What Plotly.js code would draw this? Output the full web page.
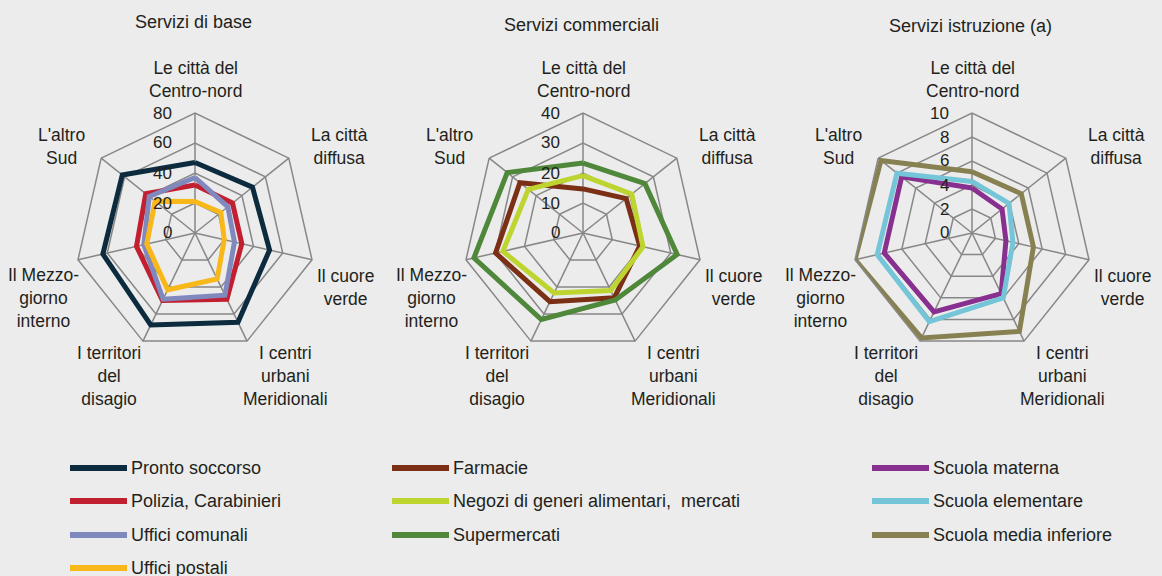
<!DOCTYPE html>
<html>
<head>
<meta charset="utf-8">
<script src="https://cdn.plot.ly/plotly-3.0.1.min.js"></script>
<style>
html,body{margin:0;padding:0;background:#EBECEB;}
#chart{width:1162px;height:576px;}
</style>
</head>
<body>
<div id="chart"></div>
<script>
// Categories (angular axis)
const categories = ["Le città del<br>Centro-nord", "La città<br>diffusa", "Il cuore<br>verde", "I centri<br>urbani<br>Meridionali", "I territori<br>del<br>disagio", "Il Mezzo-<br>giorno<br>interno", "L'altro<br>Sud"];

// Panel titles
const panelTitles = ["Servizi di base", "Servizi commerciali", "Servizi istruzione (a)"];

// Servizi di base
const prontoSoccorso = [47, 49, 51, 66, 68, 63, 62];
const poliziaCarabinieri = [32, 32, 32, 49, 50, 40, 42];
const ufficiComunali = [37, 28, 27, 46, 49, 35, 39];
const ufficiPostali = [21, 22, 20, 34, 42, 33, 34];

// Servizi commerciali
const farmacie = [14.7, 18.4, 19.4, 24, 25.4, 29.9, 26.9];
const negoziAlimentari = [19.1, 20.8, 20.5, 21.3, 22.2, 27.4, 23.3];
const supermercati = [23.3, 26.4, 32.2, 24.8, 32, 37.3, 32.3];

// Servizi istruzione
const scuolaMaterna = [3.75, 3.2, 2.9, 5.6, 7.3, 7.5, 7.5];
const scuolaElementare = [4.3, 3.95, 3.5, 6.0, 8.2, 8.1, 8.0];
const scuolaMedia = [5.1, 5.25, 5.25, 9.1, 9.7, 10, 9.7];

// Radial scales and their tick labels
const radialMax = [80, 40, 10];
const radialStep = [20, 10, 2];
const radialTicks = [["0", "20", "40", "60", "80"], ["0", "10", "20", "30", "40"], ["0", "2", "4", "6", "8", "10"]];

const series = [
  {name: "Pronto soccorso", r: prontoSoccorso, color: "#0C2B3F", panel: 0},
  {name: "Polizia, Carabinieri", r: poliziaCarabinieri, color: "#C21F30", panel: 0},
  {name: "Uffici comunali", r: ufficiComunali, color: "#8089BE", panel: 0},
  {name: "Uffici postali", r: ufficiPostali, color: "#F8B819", panel: 0},
  {name: "Farmacie", r: farmacie, color: "#7B2F14", panel: 1},
  {name: "Negozi di generi alimentari,&nbsp; mercati", r: negoziAlimentari, color: "#BFD52F", panel: 1},
  {name: "Supermercati", r: supermercati, color: "#4F873B", panel: 1},
  {name: "Scuola materna", r: scuolaMaterna, color: "#88308F", panel: 2},
  {name: "Scuola elementare", r: scuolaElementare, color: "#74C5D7", panel: 2},
  {name: "Scuola media inferiore", r: scuolaMedia, color: "#878151", panel: 2}
];
const subplots = ["polar", "polar2", "polar3"];

const data = series.map((s) => ({
  type: "scatterpolar",
  mode: "lines",
  r: s.r.concat([s.r[0]]),
  theta: categories.concat([categories[0]]),
  name: s.name,
  subplot: subplots[s.panel],
  showlegend: false,
  line: {color: s.color, width: 5},
  hoverinfo: "skip"
}));

const W = 1162, H = 576;
const centersX = [195, 583, 972];
const centerY = 233;
const R = 120;
const FONT = "Liberation Sans, Arial, sans-serif";
const TXT = "#231F20";
const gridCol = "#878787";

function polarCfg(i) {
  return {
    domain: {
      x: [(centersX[i] - R) / W, (centersX[i] + R) / W],
      y: [(H - centerY - R) / H, (H - centerY + R) / H]
    },
    bgcolor: "rgba(0,0,0,0)",
    gridshape: "linear",
    radialaxis: {
      range: [0, radialMax[i]],
      dtick: radialStep[i],
      tick0: 0,
      angle: 90,
      showline: false,
      ticks: "",
      showticklabels: false,
      gridcolor: gridCol,
      gridwidth: 1.5
    },
    angularaxis: {
      rotation: 90,
      direction: "clockwise",
      type: "category",
      categoryarray: categories,
      linecolor: gridCol,
      linewidth: 1.5,
      gridcolor: gridCol,
      gridwidth: 1.5,
      ticks: "",
      showticklabels: false
    }
  };
}

// Category label placement (offset of each label block from the panel centre, px)
const labelOffset = [[0, -154], [144, -87], [150, 54], [90, 143], [-86, 143], [-152, 65], [-134, -87]];
const titleY = [22, 25, 26];

const annotations = [];
panelTitles.forEach((t, i) => {
  annotations.push({
    text: t, xref: "paper", yref: "paper",
    x: (centersX[i] - 2) / W, y: (H - titleY[i]) / H,
    xanchor: "center", yanchor: "middle", showarrow: false,
    font: {family: FONT, size: 18, color: TXT}
  });
  categories.forEach((c, k) => {
    annotations.push({
      text: c, xref: "paper", yref: "paper",
      x: (centersX[i] + labelOffset[k][0]) / W,
      y: (H - centerY - labelOffset[k][1]) / H,
      xanchor: "center", yanchor: "middle", align: "center", showarrow: false,
      font: {family: FONT, size: 17.5, color: TXT}
    });
  });
  // radial tick labels, placed on the radial scale of the panel
  radialTicks[i].forEach((t) => {
    const v = parseFloat(t);
    annotations.push({
      text: t, xref: "paper", yref: "paper",
      x: (centersX[i] - 21) / W,
      y: (H - centerY + R * v / radialMax[i]) / H,
      xanchor: "right", yanchor: "middle", showarrow: false,
      font: {family: FONT, size: 17, color: TXT}
    });
  });
});

// Manual legend (three columns built from the series list)
const legendColX = [70, 392, 872];
const legendRowY = [468, 501, 535, 568];
const shapes = [];
const rowCount = [0, 0, 0];
series.forEach((s) => {
  const col = s.panel, row = rowCount[col]++;
  const x0 = legendColX[col], y = legendRowY[row];
  shapes.push({
    type: "line", xref: "paper", yref: "paper",
    x0: x0 / W, x1: (x0 + 57) / W, y0: (H - y) / H, y1: (H - y) / H,
    line: {color: s.color, width: 6}
  });
  annotations.push({
    text: s.name, xref: "paper", yref: "paper",
    x: (x0 + 59) / W, y: (H - y) / H,
    xanchor: "left", yanchor: "middle", showarrow: false,
    font: {family: FONT, size: 18, color: TXT}
  });
});

const layout = {
  width: W, height: H,
  margin: {l: 0, r: 0, t: 0, b: 0, pad: 0},
  paper_bgcolor: "#EBECEB",
  plot_bgcolor: "#EBECEB",
  showlegend: false,
  polar: polarCfg(0),
  polar2: polarCfg(1),
  polar3: polarCfg(2),
  annotations: annotations,
  shapes: shapes
};

Plotly.newPlot("chart", data, layout, {displayModeBar: false, staticPlot: true});
</script>
</body>
</html>
